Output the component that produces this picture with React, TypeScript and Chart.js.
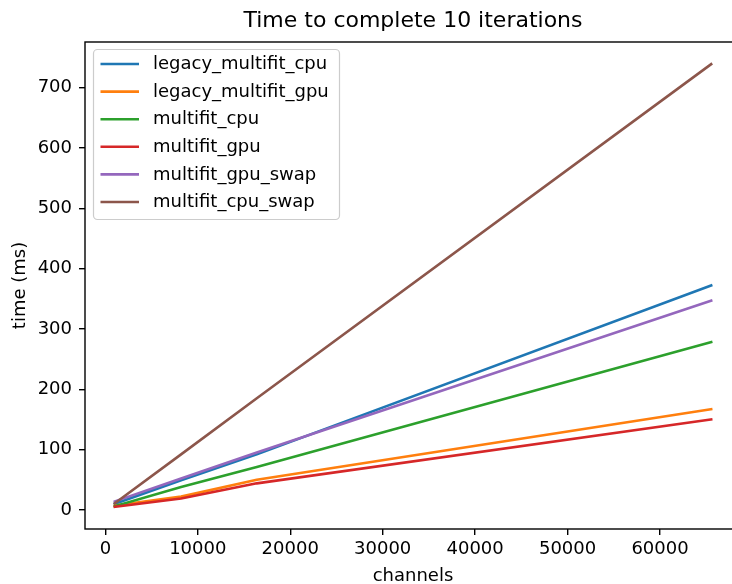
import React, { useEffect, useRef } from "react";
import { Chart, registerables } from "chart.js";

Chart.register(...registerables);

const chartTitle = "Time to complete 10 iterations";
const xLabel = "channels";
const yLabel = "time (ms)";

const channels = [1024, 8192, 16384, 65536];
const legacyMultifitCpu = [10, 49, 92, 372];
const legacyMultifitGpu = [7, 22, 50, 167];
const multifitCpu = [6, 38, 71, 278];
const multifitGpu = [5, 19, 44, 150];
const multifitGpuSwap = [14, 52, 95, 347];
const multifitCpuSwap = [11, 92, 185, 739];

const seriesNames = [
  "legacy_multifit_cpu",
  "legacy_multifit_gpu",
  "multifit_cpu",
  "multifit_gpu",
  "multifit_gpu_swap",
  "multifit_cpu_swap",
];
const seriesValues = [
  legacyMultifitCpu,
  legacyMultifitGpu,
  multifitCpu,
  multifitGpu,
  multifitGpuSwap,
  multifitCpuSwap,
];
const seriesColors = ["#1f77b4", "#ff7f0e", "#2ca02c", "#d62728", "#9467bd", "#8c564b"];

const xTicks = [0, 10000, 20000, 30000, 40000, 50000, 60000];
const yTicks = [0, 100, 200, 300, 400, 500, 600, 700];

const FONT = "'DejaVu Sans', sans-serif";

function paddedRange(vals: number[]) {
  const lo = Math.min(...vals);
  const hi = Math.max(...vals);
  const m = (hi - lo) * 0.05;
  return [lo - m, hi + m];
}

const framePlugin = {
  id: "frame",
  afterDatasetsDraw(chart: any) {
    const { ctx, chartArea } = chart;
    ctx.save();
    ctx.strokeStyle = "#000";
    ctx.lineWidth = 1.4;
    ctx.strokeRect(chartArea.left, chartArea.top, chartArea.right - chartArea.left, chartArea.bottom - chartArea.top);
    ctx.restore();
  },
};

const legendPlugin = {
  id: "mplLegend",
  afterDraw(chart: any) {
    const { ctx, chartArea } = chart;
    const bx = chartArea.left + 8.5;
    const by = chartArea.top + 7.5;
    const bw = 246;
    const bh = 170;
    ctx.save();
    ctx.beginPath();
    ctx.roundRect(bx, by, bw, bh, 4);
    ctx.fillStyle = "rgba(255,255,255,0.8)";
    ctx.fill();
    ctx.strokeStyle = "#cccccc";
    ctx.lineWidth = 1.2;
    ctx.stroke();
    ctx.font = `18px ${FONT}`;
    ctx.textBaseline = "middle";
    ctx.textAlign = "left";
    seriesNames.forEach((name, i) => {
      const ry = by + 14.5 + i * 27.6;
      ctx.beginPath();
      ctx.moveTo(bx + 7, ry);
      ctx.lineTo(bx + 45.5, ry);
      ctx.strokeStyle = seriesColors[i];
      ctx.lineWidth = 2.6;
      ctx.stroke();
      ctx.fillStyle = "#000";
      ctx.fillText(name, bx + 59.5, ry + 0.5);
    });
    ctx.restore();
  },
};

export default function App() {
  const ref = useRef<HTMLCanvasElement | null>(null);
  useEffect(() => {
    if (!ref.current) return;
    Chart.defaults.font.family = FONT;
    Chart.defaults.color = "#000";
    const [xMin, xMax] = paddedRange(channels);
    const [yMin, yMax] = paddedRange(seriesValues.flat());
    const chart = new Chart(ref.current, {
      type: "line",
      data: {
        datasets: seriesNames.map((name, i) => ({
          label: name,
          data: channels.map((c, j) => ({ x: c, y: seriesValues[i][j] })),
          borderColor: seriesColors[i],
          backgroundColor: seriesColors[i],
          borderWidth: 2.6,
          pointRadius: 0,
          tension: 0,
          fill: false,
          borderCapStyle: "square",
          borderJoinStyle: "round",
          order: seriesNames.length - i,
        })),
      },
      options: {
        animation: false,
        responsive: false,
        devicePixelRatio: 1,
        events: [],
        layout: { padding: { left: 0, right: 85, top: 0, bottom: 0 } },
        plugins: {
          legend: { display: false },
          tooltip: { enabled: false },
          title: {
            display: true,
            fullSize: false,
            text: chartTitle,
            color: "#000",
            font: { family: FONT, size: 22, weight: "normal", lineHeight: 1.2 },
            padding: { top: 8.2, bottom: 7.4 },
          },
        },
        scales: {
          x: {
            type: "linear",
            min: xMin,
            max: xMax,
            afterFit: (s: any) => {
              s.height = 55;
            },
            afterBuildTicks: (s: any) => {
              s.ticks = xTicks.map((v) => ({ value: v }));
            },
            ticks: {
              color: "#000",
              font: { family: FONT, size: 18 },
              padding: 4,
              maxRotation: 0,
              autoSkip: false,
              callback: (v: any) => String(v),
            },
            grid: { drawOnChartArea: false, drawTicks: true, tickLength: 6, color: "#000", lineWidth: 1.4 },
            border: { display: false },
            title: {
              display: true,
              text: xLabel,
              color: "#000",
              font: { family: FONT, size: 18, lineHeight: 0.9 },
              padding: 0,
            },
          },
          y: {
            type: "linear",
            min: yMin,
            max: yMax,
            afterFit: (s: any) => {
              s.width = 85;
            },
            afterBuildTicks: (s: any) => {
              s.ticks = yTicks.map((v) => ({ value: v }));
            },
            ticks: {
              color: "#000",
              font: { family: FONT, size: 18 },
              padding: 7,
              autoSkip: false,
              callback: (v: any) => String(v),
            },
            grid: { drawOnChartArea: false, drawTicks: true, tickLength: 6, color: "#000", lineWidth: 1.4 },
            border: { display: false },
            title: {
              display: true,
              text: yLabel,
              color: "#000",
              font: { family: FONT, size: 18, lineHeight: 1.2 },
              padding: { top: 9.4, bottom: 0 },
            },
          },
        },
      },
      plugins: [framePlugin, legendPlugin],
    } as any);
    return () => chart.destroy();
  }, []);
  return (
    <div
      style={{
        position: "fixed",
        left: 0,
        top: 0,
        width: 732,
        height: 584,
        overflow: "hidden",
        background: "#fff",
      }}
    >
      <canvas ref={ref} width={826} height={584} style={{ width: 826, height: 584, display: "block" }} />
    </div>
  );
}
